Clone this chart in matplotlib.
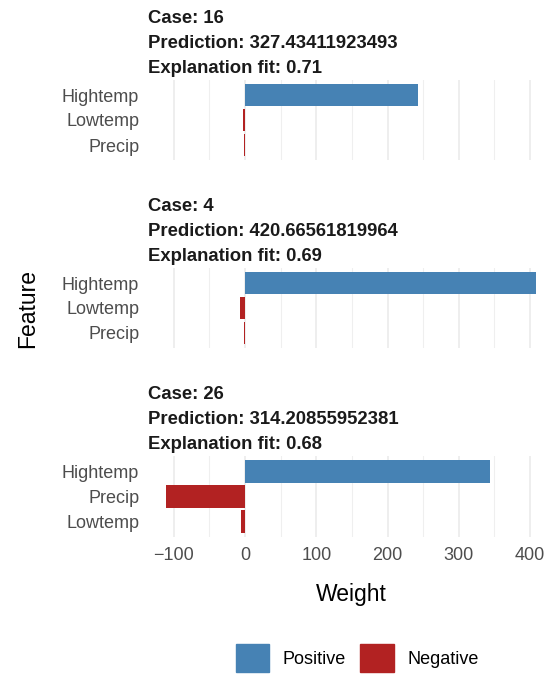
import matplotlib.pyplot as plt
from matplotlib.patches import Patch

plt.rcParams['font.family'] = ['Liberation Sans', 'DejaVu Sans']

# one block per explained case, features listed top to bottom
cases = ["16", "4", "26"]
predictions = ["327.43411923493", "420.66561819964", "314.20855952381"]
fits = ["0.71", "0.69", "0.68"]
features = [["Hightemp", "Lowtemp", "Precip"],
            ["Hightemp", "Lowtemp", "Precip"],
            ["Hightemp", "Precip", "Lowtemp"]]
weights = [[243, -3, -1],
           [409, -7, -1.5],
           [344, -111, -6]]

pos_col = "#4682B4"
neg_col = "#B22222"
W, H = 556, 674

fig = plt.figure(figsize=(W / 100, H / 100), dpi=100)

# panel rectangles in pixels (top, bottom)
panels = [(80, 160), (268, 348), (456, 537)]
px_left, px_right = 147.5, 555
xlim = (-137, 435)

for i, (top, bot) in enumerate(panels):
    ax = fig.add_axes([px_left / W, 1 - bot / H, (px_right - px_left) / W, (bot - top) / H])
    ys = list(range(len(features[i])))[::-1]
    cols = [pos_col if w > 0 else neg_col for w in weights[i]]
    ax.barh(ys, weights[i], height=0.9, color=cols, zorder=3)
    ax.set_xlim(*xlim)
    ax.set_ylim(-0.6, 2.6)
    ax.set_yticks(ys)
    ax.set_yticklabels(features[i], fontsize=13, color="#4D4D4D")
    ax.set_xticks([-100, 0, 100, 200, 300, 400])
    ax.set_xticks([-50, 50, 150, 250, 350], minor=True)
    ax.grid(axis="x", which="major", color="#EBEBEB", linewidth=1.2, zorder=0)
    ax.grid(axis="x", which="minor", color="#EFEFEF", linewidth=0.8, zorder=0)
    ax.tick_params(length=0, which="both", pad=6)
    for s in ax.spines.values():
        s.set_visible(False)
    if i < 2:
        ax.set_xticklabels([])
    else:
        ax.set_xticklabels(["\u2212100", "0", "100", "200", "300", "400"], fontsize=13, color="#4D4D4D")
        ax.tick_params(axis="x", pad=7)
    title = "Case: %s\nPrediction: %s\nExplanation fit: %s" % (cases[i], predictions[i], fits[i])
    fig.text(px_left / W, 1 - (top - 3) / H, title, fontsize=13.3, fontweight="bold",
             va="bottom", ha="left", linespacing=1.6, color="#1A1A1A")

fig.text(28 / W, 1 - 308 / H, "Feature", rotation=90, fontsize=16.5, va="center", ha="center")
fig.text(351 / W, 1 - 594 / H, "Weight", fontsize=16.5, va="center", ha="center")

handles = [Patch(color=pos_col, label="Positive"), Patch(color=neg_col, label="Negative")]
fig.legend(handles=handles, loc="center", bbox_to_anchor=(357 / W, 1 - 658 / H), ncol=2,
           frameon=False, fontsize=13, handlelength=1.85, handleheight=2.0,
           handletextpad=0.75, columnspacing=0.8, borderpad=0)

fig.savefig("out.png", dpi=100)
